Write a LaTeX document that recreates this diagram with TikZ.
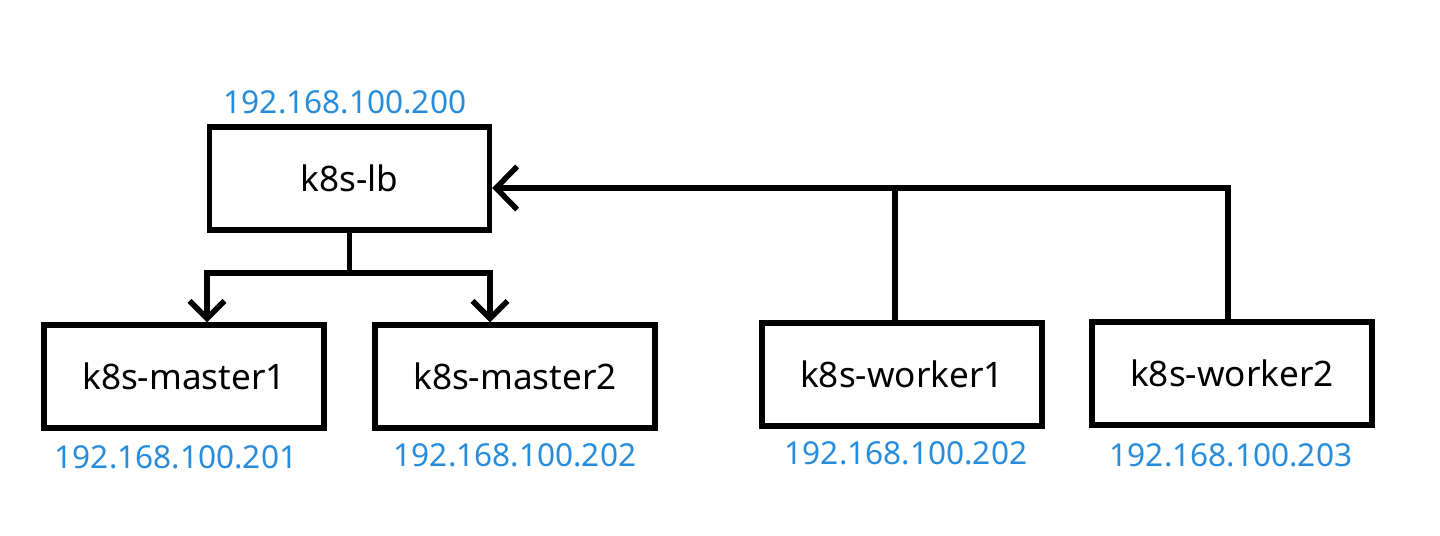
\documentclass[tikz,border=0pt]{standalone}
\usepackage{fontspec}
\setmainfont{Noto Sans}
\usetikzlibrary{arrows.meta}
\definecolor{ipblue}{RGB}{40,140,220}
\begin{document}
\begin{tikzpicture}[x=0.02cm, y=-0.02cm,
        host/.style={draw, line width=0.11cm, minimum width=5.6cm, minimum height=2.06cm,
          inner sep=0pt, font=\fontsize{20}{22}\selectfont},
        ip/.style={text=ipblue, font=\fontsize{18}{20}\selectfont},
        link/.style={line width=0.11cm},
        arr/.style={link, -{Straight Barb[length=0.35cm, width=0.7cm, line width=0.11cm]}}
      ]
      \useasboundingbox (0,0) rectangle (1440,535);
      % hosts
      \node [host] (lb) at (349.5,178.5) {k8s-lb};
      \node [host] (m1) at (184,376.5) {k8s-master1};
      \node [host] (m2) at (515,376.5) {k8s-master2};
      \node [host] (w1) at (902,374.5) {k8s-worker1};
      \node [host] (w2) at (1232,373.5) {k8s-worker2};
      % addresses
      \node [ip] (lbip) at (345,102) {192.168.100.200};
      \node [ip] (m1ip) at (176,457) {192.168.100.201};
      \node [ip] (m2ip) at (515,455) {192.168.100.202};
      \node [ip] (w1ip) at (906,453) {192.168.100.202};
      \node [ip] (w2ip) at (1231,455) {192.168.100.203};
      % lb to masters
      \coordinate (split) at (lb.south |- 0,273);
      \draw [link] (lb.south) -- (split);
      \draw [arr] (split) -| ([xshift=0.46cm]m1.north);
      \draw [arr] (split) -| ([xshift=-0.5cm]m2.north);
      % workers to lb
      \coordinate (bus) at ([yshift=-0.19cm]lb.east);
      \draw [arr, -{Straight Barb[length=0.42cm, width=0.86cm, line width=0.11cm]}]
        ([xshift=-0.08cm]w2.north) |- (bus);
      \draw [link] ([xshift=-0.14cm]w1.north) -- ([xshift=-0.14cm]w1.north |- bus);
\end{tikzpicture}
\end{document}
